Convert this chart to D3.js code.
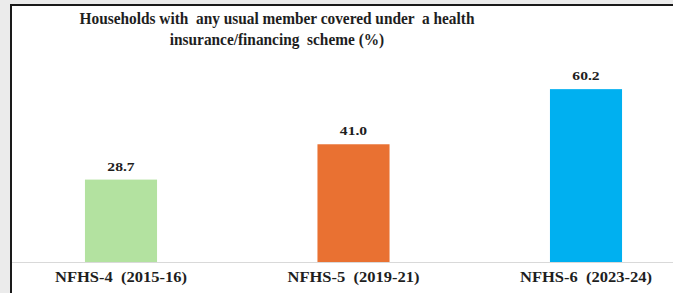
<html>
<head>
  <script src="https://d3js.org/d3.v7.min.js"></script>
  <style>
    body { margin: 0; background: #ebebeb; }
  </style>
</head>
<body>
  <svg id="chart" width="673" height="293"></svg>
  <script>
    // data
    const rounds = ["NFHS-4  (2015-16)", "NFHS-5  (2019-21)", "NFHS-6  (2023-24)"];
    const coverage = [28.7, 41.0, 60.2];
    const barColors = ["#b3e2a0", "#e97132", "#00b0f0"];
    const titleLines = ["Households with  any usual member covered under  a health", "insurance/financing  scheme (%)"];

    const font = "'Liberation Serif', 'Times New Roman', serif";

    const svg = d3.select("#chart");
    const width = +svg.attr("width");
    const height = +svg.attr("height");

    // white panel with dark frame (runs off the right/bottom edge)
    svg.append("rect")
      .attr("x", 11).attr("y", 5)
      .attr("width", width).attr("height", height)
      .attr("fill", "white")
      .attr("stroke", "#1a1a1a")
      .attr("stroke-width", 2);

    const x = d3.scaleBand()
      .domain(rounds)
      .range([4.75, 702.25])
      .paddingInner(0.69)
      .paddingOuter(0.345);

    const y = d3.scaleLinear()
      .domain([0, 70])
      .range([262, 61]);

    function label(sel, size) {
      sel.attr("text-anchor", "middle")
        .attr("font-family", font)
        .attr("font-weight", "bold")
        .attr("font-size", size)
        .attr("fill", "#1e1e1e")
        .style("white-space", "pre");
    }

    // title
    svg.append("g").selectAll("text")
      .data(titleLines)
      .join("text")
      .attr("transform", (d, i) => `translate(277,${24 + i * 21}) scale(0.96,1)`)
      .call(label, 16)
      .text(d => d);

    // bars
    svg.append("g").selectAll("rect")
      .data(coverage)
      .join("rect")
      .attr("x", (d, i) => x(rounds[i]))
      .attr("y", d => y(d))
      .attr("width", x.bandwidth())
      .attr("height", d => y(0) - y(d))
      .attr("fill", (d, i) => barColors[i]);

    // value labels (source text is a bit wide, so stretch horizontally)
    svg.append("g").selectAll("text")
      .data(coverage)
      .join("text")
      .attr("transform", (d, i) => `translate(${x(rounds[i]) + x.bandwidth() / 2},${y(d) - 9}) scale(1.2,1)`)
      .call(label, 13)
      .text(d => d.toFixed(1));

    // baseline
    svg.append("line")
      .attr("x1", 12).attr("x2", width)
      .attr("y1", y(0) + 0.5).attr("y2", y(0) + 0.5)
      .attr("stroke", "#d9d9d9");

    // category labels
    svg.append("g").selectAll("text")
      .data(rounds)
      .join("text")
      .attr("transform", d => `translate(${x(d) + x.bandwidth() / 2},282) scale(1.18,1)`)
      .call(label, 14)
      .text(d => d);
  </script>
</body>
</html>
